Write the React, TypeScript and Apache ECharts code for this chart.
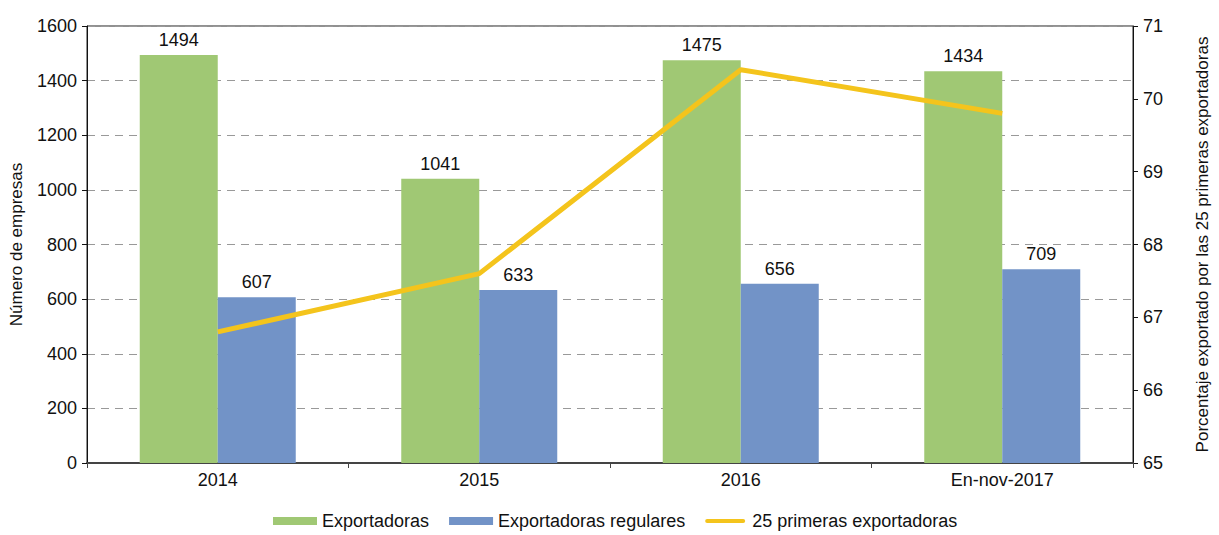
import React, { useEffect, useRef } from "react";
import * as echarts from "echarts";

const categories = ["2014", "2015", "2016", "En-nov-2017"];
const exportadoras = [1494, 1041, 1475, 1434];
const regulares = [607, 633, 656, 709];
const top25 = [66.8, 67.6, 70.4, 69.8];

const FONT = "'Liberation Sans', Arial, Helvetica, sans-serif";
const LINE_ICON = "path://M0,0L0.01,0M0,10L0.01,10M2.5,2.5H47.5A2.5,2.5 0 0 1 47.5,7.5H2.5A2.5,2.5 0 0 1 2.5,2.5Z";

export default function App() {
  const ref = useRef<HTMLDivElement>(null);
  useEffect(() => {
    const chart = echarts.init(ref.current!, null, { renderer: "svg" });
    chart.setOption({
      animation: false,
      textStyle: { fontFamily: FONT },
      grid: { left: 87, right: 71, top: 26, bottom: 72, show: true, borderColor: "#222", borderWidth: 1 },
      legend: {
        top: 507,
        left: 268,
        padding: 5,
        itemWidth: 44,
        itemHeight: 8,
        itemGap: 20,
        textStyle: { fontSize: 18, color: "#111", fontFamily: FONT },
        data: [
          { name: "Exportadoras", icon: "rect" },
          { name: "Exportadoras regulares", icon: "rect" },
          { name: "25 primeras exportadoras", icon: LINE_ICON },
        ],
      },
      xAxis: {
        type: "category",
        data: categories,
        axisLine: { lineStyle: { color: "#444", width: 2 } },
        axisTick: { show: true, alignWithLabel: false, lineStyle: { color: "#444" } },
        axisLabel: { fontSize: 18, color: "#111", margin: 8 },
      },
      yAxis: [
        {
          type: "value",
          min: 0,
          max: 1600,
          interval: 200,
          name: "Número de empresas",
          nameLocation: "middle",
          nameRotate: 90,
          nameGap: 62,
          nameTextStyle: { fontSize: 17, color: "#111" },
          axisLine: { show: true, lineStyle: { color: "#111" } },
          axisTick: { show: true, lineStyle: { color: "#111" } },
          axisLabel: { fontSize: 18, color: "#111", margin: 10, formatter: (v: number) => String(v) },
          splitLine: { lineStyle: { color: "#999", type: [8, 6] } },
        },
        {
          type: "value",
          min: 65,
          max: 71,
          interval: 1,
          name: "Porcentaje exportado por las 25 primeras exportadoras",
          nameLocation: "middle",
          nameRotate: 90,
          nameGap: 61,
          nameTextStyle: { fontSize: 17, color: "#111" },
          axisLine: { show: true, lineStyle: { color: "#111" } },
          axisTick: { show: true, lineStyle: { color: "#111" } },
          axisLabel: { fontSize: 18, color: "#111", margin: 10 },
          splitLine: { show: false },
        },
      ],
      series: [
        {
          name: "Exportadoras",
          type: "bar",
          data: exportadoras,
          barWidth: 78,
          barGap: "0%",
          itemStyle: { color: "#A0C874" },
          label: { show: true, position: "top", fontSize: 18, color: "#111", distance: 6 },
        },
        {
          name: "Exportadoras regulares",
          type: "bar",
          data: regulares,
          barWidth: 78,
          barGap: "0%",
          itemStyle: { color: "#7293C7" },
          label: { show: true, position: "top", fontSize: 18, color: "#111", distance: 6 },
        },
        {
          name: "25 primeras exportadoras",
          type: "line",
          yAxisIndex: 1,
          data: top25,
          symbol: "none",
          z: 5,
          lineStyle: { color: "#F4C41C", width: 5 },
          itemStyle: { color: "#F4C41C" },
        },
      ],
    });
    return () => chart.dispose();
  }, []);
  return (
    <div
      ref={ref}
      style={{ position: "fixed", top: 0, left: 0, width: 1219, height: 535, background: "#fff" }}
    />
  );
}
